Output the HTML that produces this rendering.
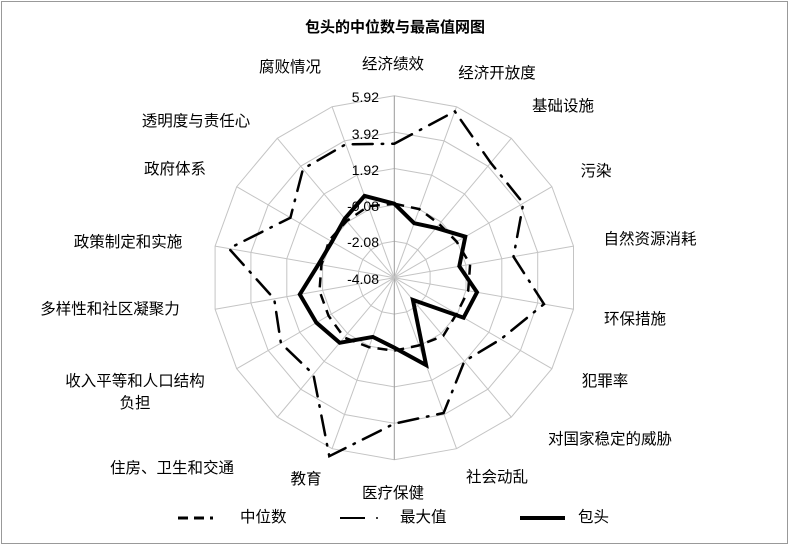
<!DOCTYPE html>
<html><head><meta charset="utf-8"><style>
body{margin:0;background:#fff;}
svg{display:block;font-family:"Liberation Sans","Noto Sans CJK SC",sans-serif;}
</style></head><body>
<svg id="s" width="790" height="548" viewBox="0 0 790 548" xmlns="http://www.w3.org/2000/svg">
<rect x="1.5" y="1.5" width="786" height="542" fill="#fff" stroke="#999" stroke-width="1"/>
<text x="395" y="32" text-anchor="middle" font-size="15" font-weight="bold" fill="#000">包头的中位数与最高值网图</text>
<g id="grid"></g>
<g id="series"></g>
<g font-size="14" fill="#000" text-anchor="end">
<text x="379" y="102">5.92</text>
<text x="379" y="139">3.92</text>
<text x="379" y="175">1.92</text>
<text x="379" y="211">-0.08</text>
<text x="379" y="247">-2.08</text>
<text x="379" y="284">-4.08</text>
</g>
<g font-size="15.5" fill="#000" text-anchor="middle">
<text x="393" y="69">经济绩效</text>
<text x="497" y="78">经济开放度</text>
<text x="563" y="111">基础设施</text>
<text x="596" y="176">污染</text>
<text x="650" y="244">自然资源消耗</text>
<text x="635" y="324">环保措施</text>
<text x="605" y="386">犯罪率</text>
<text x="610" y="444">对国家稳定的威胁</text>
<text x="497" y="482">社会动乱</text>
<text x="393" y="498">医疗保健</text>
<text x="306" y="484">教育</text>
<text x="172" y="473">住房、卫生和交通</text>
<text x="135" y="386">收入平等和人口结构</text>
<text x="135" y="408">负担</text>
<text x="110" y="314">多样性和社区凝聚力</text>
<text x="128" y="247">政策制定和实施</text>
<text x="175" y="174">政府体系</text>
<text x="196" y="126">透明度与责任心</text>
<text x="290" y="72">腐败情况</text>
</g>
<g font-size="15.5">
<line x1="178" y1="518" x2="213" y2="518" stroke="#000" stroke-width="3" stroke-dasharray="10,6"/>
<text x="240" y="522">中位数</text>
<line x1="340" y1="518" x2="365" y2="518" stroke="#000" stroke-width="2"/>
<circle cx="377" cy="518" r="1" fill="#000"/>
<text x="400" y="522">最大值</text>
<line x1="520" y1="518" x2="565" y2="518" stroke="#000" stroke-width="4"/>
<text x="578" y="522">包头</text>
</g>
</svg>
<script>
var cx=394.3,cy=277.7,R=182,N=18,ns="http://www.w3.org/2000/svg";
function pt(i,r){var a=i*Math.PI*2/N;return [cx+r*Math.sin(a),cy-r*Math.cos(a)];}
function poly(rs,attrs,parent){var p=document.createElementNS(ns,"polygon");
p.setAttribute("points",rs.map(function(r,i){var q=pt(i,r);return q[0].toFixed(1)+","+q[1].toFixed(1);}).join(" "));
for(var k in attrs)p.setAttribute(k,attrs[k]);parent.appendChild(p);}
var g=document.getElementById("grid");
for(var k=1;k<=5;k++){var rs=[];for(var i=0;i<N;i++)rs.push(R*k/5);poly(rs,{fill:"none",stroke:"#c4c4c4","stroke-width":"1"},g);}
for(var i=0;i<N;i++){var q=pt(i,R);var l=document.createElementNS(ns,"line");
l.setAttribute("x1",cx);l.setAttribute("y1",cy);l.setAttribute("x2",q[0]);l.setAttribute("y2",q[1]);
l.setAttribute("stroke",i==0||i==9?"#999":"#c4c4c4");l.setAttribute("stroke-width","1");g.appendChild(l);}
var s=document.getElementById("series");
var med=[74,73,70,72,77,75,72,76,72,73,74,78,76,76,74,75,74,76];
var mx=[134,177,150,149,121,152,123,109,144,146,190,126,131,122,168,120,142,142];
var bt=[74,58,65,82,66,84,80,29,93,70,63,85,90,96,77,72,77,87];
poly(med,{fill:"none",stroke:"#000","stroke-width":"2.5","stroke-dasharray":"10,7"},s);
poly(mx,{fill:"none",stroke:"#000","stroke-width":"2.5","stroke-dasharray":"20,9,1.5,9","stroke-linecap":"round"},s);
poly(bt,{fill:"none",stroke:"#000","stroke-width":"4","stroke-linejoin":"miter"},s);
</script>
</body></html>
